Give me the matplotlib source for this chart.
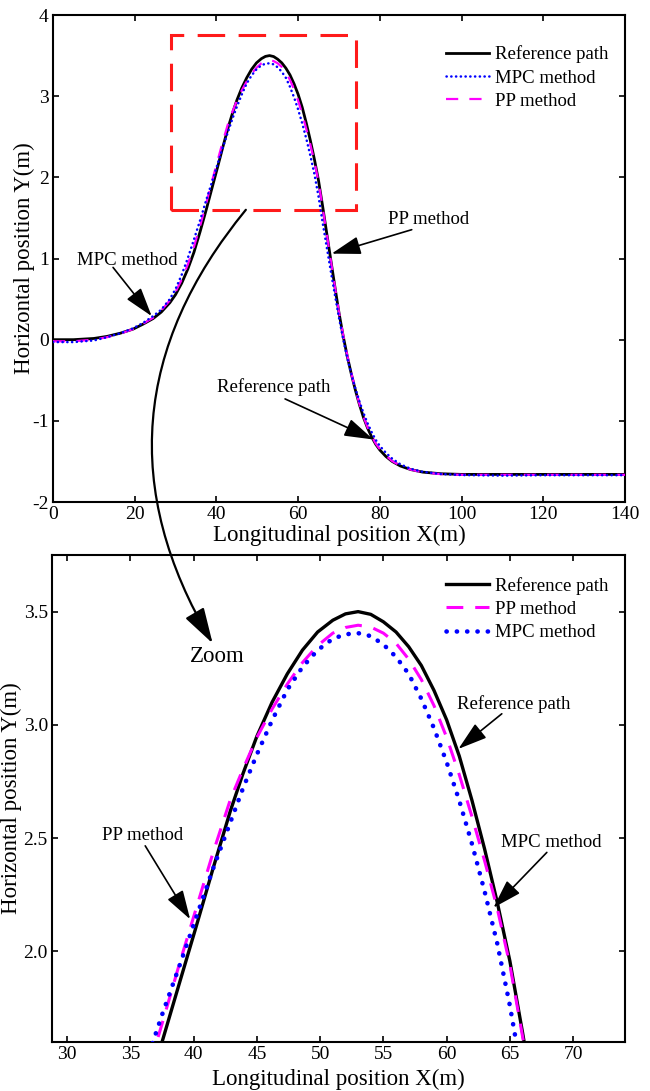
import matplotlib
matplotlib.use('Agg')
import matplotlib.pyplot as plt
from matplotlib.patches import Rectangle, ConnectionPatch

plt.rcParams['font.family'] = 'Liberation Serif'
plt.rcParams['axes.unicode_minus'] = False

# ---------------- data ----------------
x_grid = [0, 5, 10, 13.2, 16.5, 19.6, 22, 24.5, 26.5, 28.6, 30, 31.5, 33, 34.5, 36, 37.5,
          38.9, 40.2, 41.5, 42.9, 43.9, 45, 46.2, 47.4, 48.6, 49.8, 51, 52, 53, 54, 55,
          56, 57, 58, 59, 60, 61, 62, 63, 64, 65, 66, 67, 68, 69, 70, 71, 72, 73, 74,
          75, 76, 77, 78, 79, 80, 81.5, 83, 85, 87.5, 90.5, 95, 100, 110, 120, 130, 140]

y_ref = [0, 0, 0.015, 0.04, 0.08, 0.13, 0.19, 0.26, 0.34, 0.455, 0.556, 0.696, 0.87, 1.077,
         1.33, 1.60, 1.865, 2.11, 2.36, 2.62, 2.785, 2.95, 3.10, 3.225, 3.33, 3.41, 3.462,
         3.49, 3.50, 3.488, 3.455, 3.41, 3.345, 3.262, 3.152, 3.022, 2.862, 2.667, 2.452,
         2.217, 1.957, 1.642, 1.31, 0.98, 0.65, 0.33, 0.05, -0.2, -0.42, -0.62, -0.80,
         -0.96, -1.09, -1.20, -1.29, -1.36, -1.44, -1.50, -1.556, -1.60, -1.632, -1.652,
         -1.66, -1.66, -1.66, -1.66, -1.66]

y_pp = [-0.02, -0.02, 0.0, 0.03, 0.075, 0.13, 0.195, 0.27, 0.36, 0.485, 0.59, 0.74, 0.928,
        1.145, 1.40, 1.68, 1.95, 2.19, 2.43, 2.67, 2.805, 2.945, 3.07, 3.18, 3.275, 3.35,
        3.405, 3.43, 3.44, 3.432, 3.405, 3.36, 3.29, 3.20, 3.085, 2.945, 2.78, 2.595, 2.40,
        2.19, 1.94, 1.625, 1.30, 0.975, 0.65, 0.335, 0.06, -0.19, -0.41, -0.61, -0.79,
        -0.95, -1.08, -1.19, -1.28, -1.35, -1.43, -1.495, -1.553, -1.60, -1.635, -1.657,
        -1.665, -1.665, -1.665, -1.665, -1.665]

y_mpc = [-0.03, -0.03, -0.01, 0.03, 0.08, 0.14, 0.205, 0.29, 0.37, 0.50, 0.625, 0.80, 1.005,
         1.235, 1.47, 1.72, 1.94, 2.15, 2.36, 2.57, 2.72, 2.87, 3.02, 3.155, 3.255, 3.33,
         3.38, 3.40, 3.405, 3.392, 3.355, 3.30, 3.225, 3.115, 2.985, 2.835, 2.665, 2.475,
         2.265, 2.035, 1.76, 1.44, 1.14, 0.84, 0.55, 0.27, 0.01, -0.22, -0.42, -0.60,
         -0.76, -0.905, -1.03, -1.14, -1.235, -1.31, -1.395, -1.465, -1.535, -1.59, -1.628,
         -1.655, -1.668, -1.675, -1.67, -1.67, -1.67]

top_xticks = [0, 20, 40, 60, 80, 100, 120, 140]
top_yticks = [-2, -1, 0, 1, 2, 3, 4]
zoom_xticks = [30, 35, 40, 45, 50, 55, 60, 65, 70]
zoom_yticks = [2.0, 2.5, 3.0, 3.5]
zoom_xlim = (28.8, 74.1)
zoom_ylim = (1.6, 3.75)

fig = plt.figure(figsize=(6.5, 10.91), dpi=100)
ax = fig.add_axes([53 / 650, 1 - 502 / 1091, 572 / 650, 487 / 1091])
ax2 = fig.add_axes([52 / 650, 1 - 1042 / 1091, 573 / 650, 487 / 1091])

for a in (ax, ax2):
    a.tick_params(direction='in', top=True, right=True, length=4, width=1.2,
                  labelsize=14, pad=3)
    for s in a.spines.values():
        s.set_linewidth(1.5)

arrow_kw = dict(arrowstyle='-|>,head_length=0.9,head_width=0.28', color='k', lw=1.2,
                mutation_scale=20, shrinkA=0, shrinkB=0)
leg_kw = dict(loc='upper right', frameon=False, fontsize=13.5, handlelength=2.3,
              handletextpad=0.3, labelspacing=0.33)

# ---------------- top plot ----------------
l1, = ax.plot(x_grid, y_ref, color='k', lw=2.0, zorder=3)
l3, = ax.plot(x_grid, y_pp, color='#FF00FF', lw=1.6, linestyle=(0, (5.5, 5)), zorder=4)
l2, = ax.plot(x_grid, y_mpc, color='#0000FF', lw=1.8, linestyle=(0, (0.1, 1.8)),
              dash_capstyle='round', zorder=5)

ax.add_patch(Rectangle((zoom_xlim[0], zoom_ylim[0]), zoom_xlim[1] - zoom_xlim[0],
                       zoom_ylim[1] - zoom_ylim[0], fill=False, edgecolor='#FF1A1A',
                       lw=2.2, linestyle=(0, (9, 4.4)), zorder=1))

ax.set_xlim(0, 140)
ax.set_ylim(-2, 4)
ax.set_xticks(top_xticks)
ax.set_yticks(top_yticks)
ax.set_xlabel('Longitudinal position X(m)', fontsize=16.5, labelpad=1.5)
ax.set_ylabel('Horizontal position Y(m)', fontsize=16.5, labelpad=-2)
ax.legend([l1, l2, l3], ['Reference path', 'MPC method', 'PP method'],
          bbox_to_anchor=(1.0, 0.972), **leg_kw)

ax.text(18.1, 0.97, 'MPC method', fontsize=13.5, ha='center', va='center')
ax.annotate('', xy=(24.15, 0.29), xytext=(14.7, 0.89), arrowprops=arrow_kw)
ax.text(92.0, 1.48, 'PP method', fontsize=13.5, ha='center', va='center')
ax.annotate('', xy=(68.2, 1.06), xytext=(87.8, 1.355), arrowprops=arrow_kw)
ax.text(54.1, -0.59, 'Reference path', fontsize=13.5, ha='center', va='center')
ax.annotate('', xy=(78.4, -1.23), xytext=(56.8, -0.73), arrowprops=arrow_kw)

# ---------------- zoomed plot ----------------
k1, = ax2.plot(x_grid, y_ref, color='k', lw=2.4, zorder=3)
k2, = ax2.plot(x_grid, y_pp, color='#FF00FF', lw=2.2, linestyle=(0, (5.5, 3.9)), zorder=4)
k3, = ax2.plot(x_grid, y_mpc, color='#0000FF', lw=3.3, linestyle=(0, (0.05, 2.2)),
               dash_capstyle='round', zorder=5)

ax2.set_xlim(*zoom_xlim)
ax2.set_ylim(*zoom_ylim)
ax2.set_xticks(zoom_xticks)
ax2.set_yticks(zoom_yticks)
ax2.set_yticklabels(['%.1f' % v for v in zoom_yticks])
ax2.set_xlabel('Longitudinal position X(m)', fontsize=16.5, labelpad=4)
ax2.set_ylabel('Horizontal position Y(m)', fontsize=16.5, labelpad=1)
ax2.legend([k1, k2, k3], ['Reference path', 'PP method', 'MPC method'],
           bbox_to_anchor=(1.0, 0.99), **leg_kw)

ax2.text(65.28, 3.09, 'Reference path', fontsize=13.5, ha='center', va='center')
ax2.annotate('', xy=(60.93, 2.894), xytext=(64.36, 3.049), arrowprops=arrow_kw)
ax2.text(68.25, 2.48, 'MPC method', fontsize=13.5, ha='center', va='center')
ax2.annotate('', xy=(63.7, 2.193), xytext=(67.92, 2.437), arrowprops=arrow_kw)
ax2.text(35.97, 2.513, 'PP method', fontsize=13.5, ha='center', va='center')
ax2.annotate('', xy=(39.72, 2.142), xytext=(36.17, 2.466), arrowprops=arrow_kw)
ax2.text(41.9, 3.30, 'Zoom', fontsize=16.5, ha='center', va='center')

# curved "zoom" arrow from the red box down to the lower plot
con = ConnectionPatch(xyA=(47.2, 1.6), coordsA='data', axesA=ax,
                      xyB=(41.5, 3.36), coordsB='data', axesB=ax2,
                      arrowstyle='-|>,head_length=1.0,head_width=0.3', mutation_scale=22,
                      connectionstyle='arc3,rad=0.35', color='k', lw=1.6)
fig.add_artist(con)

fig.savefig('out.png', dpi=100)
